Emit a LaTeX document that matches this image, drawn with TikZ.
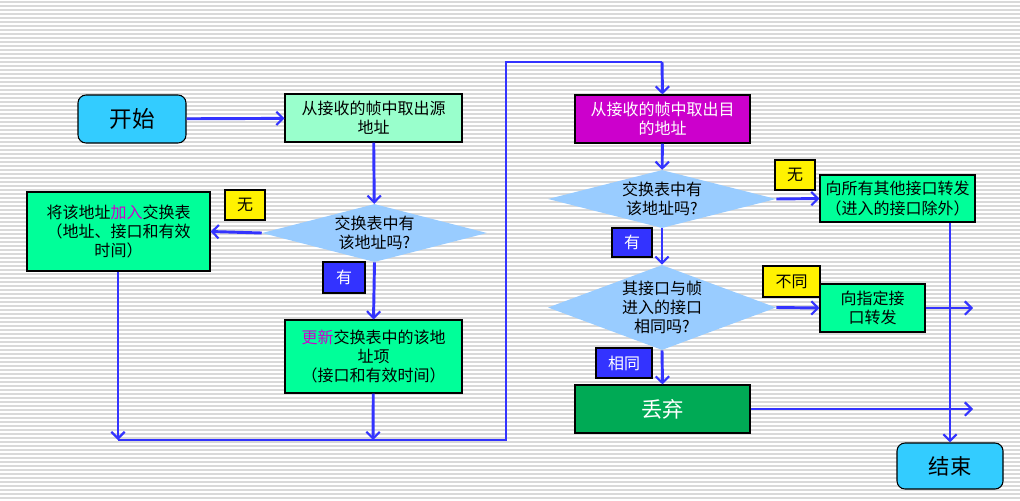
\documentclass[tikz,border=0pt]{standalone}
\usepackage{fontspec}
\setmainfont{Noto Sans CJK SC}
\usetikzlibrary{shapes.geometric,arrows.meta}
\definecolor{ln}{HTML}{3333FF}
\definecolor{cyanb}{HTML}{33CCFF}
\definecolor{mint}{HTML}{99FFCC}
\definecolor{grn}{HTML}{00FF99}
\definecolor{dgrn}{HTML}{00AA55}
\definecolor{mag}{HTML}{CC00CC}
\definecolor{dia}{HTML}{99CCFF}
\begin{document}
\begin{tikzpicture}[x=0.75pt,y=-0.75pt,
  box/.style={draw=black,line width=0.8pt,inner sep=0pt,align=center,font=\fontsize{12}{14.5}\selectfont},
  dm/.style={diamond,fill=dia,inner sep=0pt,aspect=3.6,align=center,font=\fontsize{12}{14.5}\selectfont},
  yl/.style={draw=black,fill=yellow,line width=0.8pt,font=\fontsize{12}{14}\selectfont},
  bl/.style={draw=black,fill=ln,text=white,line width=0.8pt,font=\fontsize{12}{14}\selectfont},
  ar/.style={draw=ln,line width=2.2pt,-{Straight Barb[length=5pt,width=10pt,line width=1.6pt]}},
  ln/.style={draw=ln,line width=2.2pt}]
\useasboundingbox (0,0) rectangle (1020,500);
\fill[white] (0,0) rectangle (1020,500);
\foreach \y in {2,6,...,498} \draw[gray!30,line width=0.9pt] (0,\y) -- (1020,\y);
% nodes
\node[box,fill=cyanb,rounded corners=6pt,minimum width=108*0.75pt,minimum height=48*0.75pt,font=\fontsize{17}{20}\selectfont] (start) at (132,119) {开始};
\node[box,fill=mint,minimum width=177*0.75pt,minimum height=48*0.75pt] (src) at (373.5,118) {从接收的帧中取出源\\地址};
\node[dm,minimum width=225*0.75pt,minimum height=58*0.75pt] (d1) at (374.5,233) {交换表中有\\该地址吗?};
\node[box,fill=grn,minimum width=183*0.75pt,minimum height=79*0.75pt] (add) at (118.5,231.5) {将该地址\textcolor{mag}{加入}交换表\\（地址、接口和有效\\时间）};
\node[yl,minimum width=40*0.75pt,minimum height=30*0.75pt] (n1) at (245,205) {无};
\node[bl,minimum width=42*0.75pt,minimum height=31*0.75pt] (y1) at (344,277.5) {有};
\node[box,fill=grn,minimum width=177*0.75pt,minimum height=73*0.75pt] (upd) at (373.5,356.5) {\textcolor{mag}{更新}交换表中的该地\\址项\\（接口和有效时间）};
\node[box,fill=mag,text=white,minimum width=175*0.75pt,minimum height=48*0.75pt] (dst) at (662.5,119) {从接收的帧中取出目\\的地址};
\node[dm,minimum width=228*0.75pt,minimum height=58*0.75pt] (d2) at (662,199) {交换表中有\\该地址吗?};
\node[yl,minimum width=40*0.75pt,minimum height=30*0.75pt] (n2) at (795,175) {无};
\node[box,fill=grn,minimum width=155*0.75pt,minimum height=47*0.75pt] (all) at (897.5,198.5) {向所有其他接口转发\\（进入的接口除外）};
\node[bl,minimum width=40*0.75pt,minimum height=29*0.75pt] (y2) at (632,242.5) {有};
\node[dm,minimum width=228*0.75pt,minimum height=85*0.75pt,aspect=2.7] (d3) at (662,307.5) {其接口与帧\\进入的接口\\相同吗?};
\node[yl,minimum width=57*0.75pt,minimum height=31*0.75pt] (n3) at (791.5,281.5) {不同};
\node[box,fill=grn,minimum width=105*0.75pt,minimum height=48*0.75pt] (one) at (872.5,308) {向指定接\\口转发};
\node[bl,minimum width=56*0.75pt,minimum height=30*0.75pt] (y3) at (624,363) {相同};
\node[box,fill=dgrn,text=white,minimum width=175*0.75pt,minimum height=48*0.75pt,font=\fontsize{16}{19}\selectfont] (drop) at (662.5,409) {丢弃};
\node[box,fill=cyanb,rounded corners=6pt,minimum width=106*0.75pt,minimum height=46*0.75pt,font=\fontsize{16}{19}\selectfont] (end) at (950,466) {结束};
% coordinates
\coordinate (b1) at (118,440);
\coordinate (b2) at (373,440);
\coordinate (b3) at (506,440);
\coordinate (t1) at (506,62);
\coordinate (t2) at (662,62);
\coordinate (r1) at (973,308);
\coordinate (r2) at (973,409);
% connectors
\draw[ar] (start) -- (src);
\draw[ar] (src) -- (d1);
\draw[ar] (d1.west) -- (add.east);
\draw[ar] (d1.south) -- (upd.north);
\draw[ar] (add.south -| b1) -- (b1);
\draw[ar] (upd) -- (b2);
\draw[ln] (b1) -- (b3) -- (t1) -- (t2);
\draw[ar] (t2) -- (dst.north);
\draw[ar] (dst) -- (d2);
\draw[ar] (d2.east) -- (all.west);
\draw[ar] (d2.south) -- (d3.north);
\draw[ar] (d3.east) -- (one.west);
\draw[ar] (d3.south) -- (drop.north);
\draw[ar] (one) -- (r1);
\draw[ar] (drop) -- (r2);
\draw[ar] (all.south -| end) -- (end.north);
\end{tikzpicture}
\end{document}
